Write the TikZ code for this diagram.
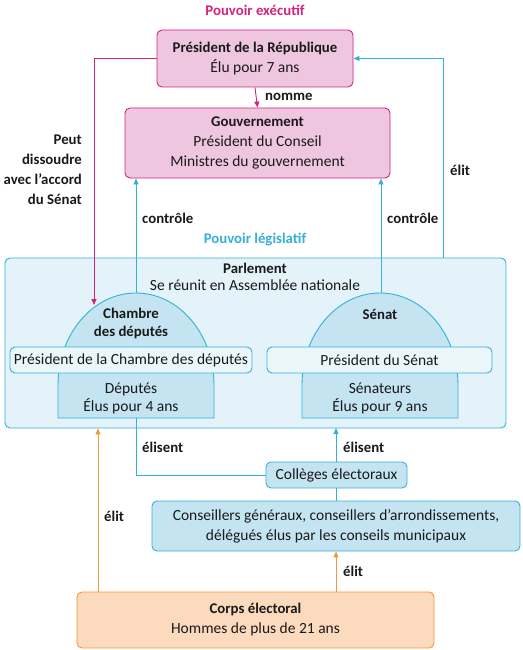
\documentclass[tikz,border=0pt]{standalone}
\usepackage{fontspec}
\setmainfont{Carlito}
\usetikzlibrary{arrows.meta}
\definecolor{mag}{HTML}{D4237F}
\definecolor{pinkfill}{HTML}{EFC6E0}
\definecolor{cy}{HTML}{35B1D8}
\definecolor{parlfill}{HTML}{E4F2F9}
\definecolor{domefill}{HTML}{C4E4F1}
\definecolor{bandfill}{HTML}{EBF6FB}
\definecolor{ora}{HTML}{F2993A}
\definecolor{peach}{HTML}{FCDABD}
\definecolor{txt}{HTML}{1A1A1A}
\begin{document}
\begin{tikzpicture}[x=1pt,y=-1pt,
  every node/.style={text=txt,font=\fontsize{15.5}{20}\selectfont},
  box/.style={rectangle,rounded corners=5pt,line width=0.9pt,align=center,inner sep=0pt},
  pinkbox/.style={box,draw=mag,fill=pinkfill},
  bluebox/.style={box,draw=cy,fill=domefill},
  bandbox/.style={box,draw=cy,fill=bandfill},
  orabox/.style={box,draw=ora,fill=peach},
  lbl/.style={font=\fontsize{14.8}{20}\selectfont\bfseries,inner sep=0pt},
  conn/.style={line width=0.9pt},
  tip/.style={-{Triangle[length=6pt,width=5pt]}},
  dome/.style={draw=cy,fill=domefill,line width=0.9pt}
]
\useasboundingbox (0,0) rectangle (522,650);

% titles
\node[lbl,text=mag] (texec) at (255,10) {Pouvoir exécutif};
\node[lbl,text=cy] (tleg) at (255,240) {Pouvoir législatif};

% executive
\node[pinkbox,minimum width=196pt,minimum height=57pt] (pres) at (255,58.5)
  {{\fontsize{14.8}{20}\selectfont\bfseries Président de la République}\\Élu pour 7 ans};
\node[pinkbox,minimum width=265pt,minimum height=70pt] (gouv) at (257.5,143)
  {{\fontsize{14.8}{20}\selectfont\bfseries Gouvernement}\\Président du Conseil\\Ministres du gouvernement};

% parliament
\node[box,draw=cy,fill=parlfill,minimum width=501pt,minimum height=170pt] (parl) at (255.5,343) {};
\node[inner sep=0pt,align=center,font=\fontsize{15.5}{17}\selectfont] (parltxt) at (255,276.5)
  {{\fontsize{14.8}{17}\selectfont\bfseries Parlement}\\Se réunit en Assemblée nationale};

% domes
\draw[dome] (58,418) -- (58,385) arc[start angle=180,end angle=0,x radius=78,y radius=-92] -- (214,418) -- cycle;
\draw[dome] (302,418) -- (302,385) arc[start angle=180,end angle=0,x radius=78,y radius=-92] -- (458,418) -- cycle;
\coordinate (chtop) at (136,293);
\coordinate (chbot) at (136,418);
\coordinate (setop) at (381,293);
\coordinate (sebot) at (336,428);
\coordinate (dissend) at (94,305);
\coordinate (elitR) at (443,258);

\node[bandbox,minimum width=242pt,minimum height=26pt] (chband) at (131,360) {Président de la Chambre des députés};
\node[bandbox,minimum width=225pt,minimum height=26pt] (seband) at (379.5,360) {Président du Sénat};

\node[inner sep=0pt,align=center,font=\fontsize{14.8}{18}\selectfont\bfseries] (chname) at (131,323) {Chambre\\des députés};
\node[inner sep=0pt,align=center,font=\fontsize{15.5}{18}\selectfont] (chmem) at (131,398) {Députés\\Élus pour 4 ans};
\node[inner sep=0pt,font=\fontsize{14.8}{18}\selectfont\bfseries] (sename) at (380,314) {Sénat};
\node[inner sep=0pt,align=center,font=\fontsize{15.5}{18}\selectfont] (semem) at (380,398) {Sénateurs\\Élus pour 9 ans};

% electors
\node[bluebox,minimum width=141pt,minimum height=26pt] (coll) at (336.5,475) {Collèges électoraux};
\node[bluebox,minimum width=368pt,minimum height=50pt] (cons) at (336,526)
  {Conseillers généraux, conseillers d’arrondissements,\\délégués élus par les conseils municipaux};
\node[orabox,minimum width=357pt,minimum height=56pt] (corps) at (255.5,620)
  {{\fontsize{14.8}{20}\selectfont\bfseries Corps électoral}\\Hommes de plus de 21 ans};

% connectors
\draw[conn,mag,tip] (pres.south) -- (gouv.north);
\node[lbl,anchor=west] (lnomme) at (265,97) {nomme};

\draw[conn,mag,tip] (pres.west) -| (dissend);
\node[lbl,align=right,anchor=east] (ldiss) at (82,170)
  {Peut\\dissoudre\\avec l’accord\\du Sénat};

\draw[conn,cy,tip] (elitR) |- (pres.east);
\node[lbl,anchor=west] (lelitR) at (450,170) {élit};

\draw[conn,cy,tip] (chtop) -- (chtop |- gouv.south);
\node[lbl,anchor=west] (lctrl1) at (142,218) {contrôle};
\draw[conn,cy,tip] (setop) -- (setop |- gouv.south);
\node[lbl,anchor=west] (lctrl2) at (387,218) {contrôle};

\draw[conn,cy] (chbot) |- (coll.west);
\node[lbl,anchor=west] (lelis1) at (142,447) {élisent};
\draw[conn,cy,tip] (coll.north -| sebot) -- (sebot);
\node[lbl,anchor=west] (lelis2) at (343,447) {élisent};
\draw[conn,cy] (cons.north -| sebot) -- (coll.south -| sebot);

\draw[conn,ora,tip] (corps.north -| sebot) -- (cons.south -| sebot);
\node[lbl,anchor=west] (lelit2) at (343,571) {élit};
\draw[conn,ora,tip] (corps.north -| 98,0) -- (parl.south -| 98,0);
\node[lbl,anchor=west] (lelit3) at (104,516) {élit};
\end{tikzpicture}
\end{document}
